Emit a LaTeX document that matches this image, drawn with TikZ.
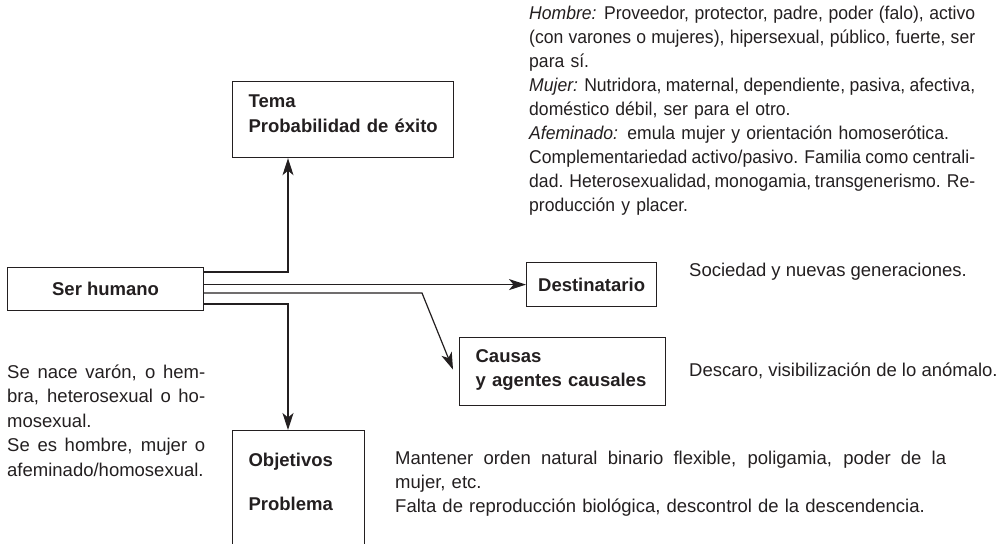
\documentclass[tikz,border=0pt]{standalone}
\usepackage{fontspec}
\setmainfont{Liberation Sans}
\newfontfamily\condfont[FakeStretch=0.95]{Liberation Sans}
\usetikzlibrary{arrows.meta}
\definecolor{ink}{HTML}{231F20}
\newcommand\jline[2]{\makebox[#1][s]{\spaceskip=0pt\xspaceskip=0pt #2}}
\tikzset{
  box/.style={draw=ink, line width=1.2pt, font=\bfseries\fontsize{18.5}{24.5}\selectfont, text=ink},
  txt/.style={inner sep=0pt, font=\fontsize{18.5}{24.5}\selectfont, text=ink, align=left},
  arr/.style={draw=ink, line width=1.2pt, -{Stealth[length=17pt,width=11pt,inset=4.5pt]}}
}
\begin{document}
\begin{tikzpicture}[x=1pt,y=-1pt]
\useasboundingbox (0,0) rectangle (1000,543);
\clip (0,0) rectangle (1000,543);
% boxes
\node[box, anchor=north west, minimum width=196pt, minimum height=43pt, inner sep=0pt] (ser) at (7,267) {Ser humano};
\node[box, anchor=north west, minimum width=221pt, minimum height=76pt, text width=189pt, inner xsep=16pt, inner ysep=0pt, align=left] (tema) at (232,81) {Tema\\\mbox{Probabilidad de éxito}\\[-13pt]\mbox{}};
\node[box, anchor=north west, minimum width=130pt, minimum height=44pt, inner sep=0pt] (dest) at (526,262) {Destinatario};
\node[box, anchor=north west, minimum width=206pt, minimum height=68pt, text width=174pt, inner xsep=16pt, inner ysep=0pt, align=left] (caus) at (459,337) {Causas\\y agentes causales\\[-17pt]\mbox{}};
\node[box, anchor=north west, minimum width=132pt, text width=100pt, inner xsep=16pt, inner ysep=22.5pt, align=left] (obj) at (232,430) {Objetivos\\[19.5pt]Problema\\[40pt]\mbox{}};
% connectors
\coordinate (t1) at (288,272);
\coordinate (c1) at (422,293);
\coordinate (o1) at (288,304);
\draw[arr] (ser.east |- t1) -- (t1) -- (t1 |- tema.south);
\draw[arr] (ser.east |- dest.west) -- (dest.west);
\draw[arr] (ser.east |- c1) -- (c1) -- ([xshift=-6pt,yshift=2pt]caus.west);
\draw[arr] (ser.east |- o1) -- (o1) -- (o1 |- obj.north);
% texts
\node[txt, anchor=north west, text width=446pt, font=\condfont\fontsize{18.5}{24}\selectfont] (hombre) at (529,6) {%
\jline{446pt}{\textit{Hombre:} Proveedor, protector, padre, poder (falo), activo}\\
\jline{446pt}{(con varones o mujeres), hipersexual, público, fuerte, ser}\\
para sí.\\
\jline{446pt}{\textit{Mujer:} Nutridora, maternal, dependiente, pasiva, afectiva,}\\
doméstico débil, ser para el otro.\\
\textit{Afeminado:} emula mujer y orientación homoserótica.\\
\jline{446pt}{Complementariedad activo/pasivo. Familia como centrali-}\\
\jline{446pt}{dad. Heterosexualidad, monogamia, transgenerismo. Re-}\\
producción y placer.};
\node[txt, anchor=base west] (soc) at (689,276) {Sociedad y nuevas generaciones.};
\node[txt, anchor=base west] (desc) at (689,376) {Descaro, visibilización de lo anómalo.};
\node[txt, anchor=north west, text width=198pt] (nace) at (7,364.5) {%
\jline{198pt}{Se nace varón, o hem-}\\
\jline{198pt}{bra, heterosexual o ho-}\\
mosexual.\\
\jline{198pt}{Se es hombre, mujer o}\\
afeminado/homosexual.};
\node[txt, anchor=north west, text width=565pt, font=\fontsize{18.5}{24}\selectfont] (mant) at (395,451) {%
\jline{551pt}{Mantener orden natural binario flexible, poligamia, poder de la}\\
mujer, etc.\\
Falta de reproducción biológica, descontrol de la descendencia.};
\end{tikzpicture}
\end{document}
